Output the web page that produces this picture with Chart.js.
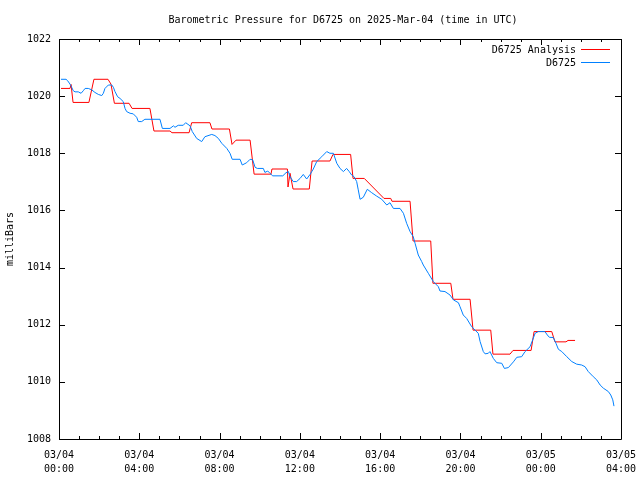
<!DOCTYPE html>
<html>
<head>
<meta charset="utf-8">
<script src="https://cdn.jsdelivr.net/npm/chart.js@4.4.1/dist/chart.umd.min.js"></script>
<style>
  body { margin: 0; background: #fff; }
  #wrap { width: 640px; height: 480px; }
</style>
</head>
<body>
<div id="wrap"><canvas id="myChart" width="640" height="480"></canvas></div>
<script>
// hours since 03/04 00:00 UTC, pressure in mb
const analysisHours = [0.10, 0.55, 0.60, 0.70, 1.49, 1.74, 2.44, 2.59, 2.76, 3.49, 3.64, 4.53, 4.73, 5.53, 5.63, 6.48, 6.61, 7.52, 7.62, 8.49, 8.62, 8.82, 9.52, 9.72, 10.56, 10.61, 11.38, 11.41, 11.51, 11.66, 12.47, 12.61, 13.50, 13.65, 14.53, 14.65, 15.21, 16.19, 16.53, 16.59, 17.49, 17.64, 18.52, 18.63, 19.52, 19.63, 20.48, 20.63, 21.51, 21.62, 22.47, 22.62, 23.52, 23.67, 24.55, 24.71, 25.26, 25.36, 25.71];
const analysisMb = [1020.27, 1020.27, 1020.41, 1019.78, 1019.78, 1020.59, 1020.59, 1020.42, 1019.75, 1019.75, 1019.57, 1019.57, 1018.78, 1018.78, 1018.72, 1018.72, 1019.07, 1019.07, 1018.85, 1018.85, 1018.31, 1018.46, 1018.46, 1017.27, 1017.27, 1017.45, 1017.45, 1016.82, 1017.30, 1016.75, 1016.75, 1017.73, 1017.73, 1017.96, 1017.96, 1017.12, 1017.12, 1016.42, 1016.42, 1016.32, 1016.32, 1014.93, 1014.93, 1013.45, 1013.45, 1012.89, 1012.89, 1011.81, 1011.81, 1010.97, 1010.97, 1011.10, 1011.10, 1011.76, 1011.76, 1011.40, 1011.40, 1011.45, 1011.45];

const stationHours = [0.10, 0.35, 0.43, 0.55, 0.63, 0.71, 0.80, 0.96, 1.10, 1.21, 1.30, 1.46, 1.63, 1.79, 1.96, 2.13, 2.21, 2.29, 2.46, 2.63, 2.71, 2.79, 2.92, 3.04, 3.20, 3.29, 3.37, 3.54, 3.70, 3.87, 3.95, 4.12, 4.28, 5.03, 5.15, 5.53, 5.70, 5.78, 5.94, 6.19, 6.31, 6.53, 6.64, 6.86, 7.11, 7.27, 7.61, 7.77, 7.94, 8.11, 8.36, 8.52, 8.63, 9.02, 9.13, 9.35, 9.52, 9.65, 9.77, 9.88, 10.18, 10.26, 10.40, 10.51, 10.65, 11.15, 11.31, 11.43, 11.51, 11.67, 11.84, 12.01, 12.17, 12.34, 12.51, 12.67, 12.84, 13.09, 13.34, 13.50, 13.67, 13.84, 14.00, 14.17, 14.33, 14.46, 14.58, 14.70, 14.83, 14.91, 15.00, 15.16, 15.36, 15.58, 15.83, 16.08, 16.33, 16.49, 16.66, 16.99, 17.16, 17.32, 17.49, 17.65, 17.74, 17.90, 18.07, 18.15, 18.40, 18.65, 18.90, 18.98, 19.23, 19.48, 19.65, 19.90, 19.98, 20.14, 20.31, 20.56, 20.73, 20.89, 20.98, 21.14, 21.23, 21.39, 21.47, 21.64, 21.81, 22.06, 22.19, 22.39, 22.64, 22.81, 23.05, 23.22, 23.47, 23.60, 23.72, 23.88, 24.21, 24.33, 24.43, 24.63, 24.76, 24.88, 25.05, 25.30, 25.55, 25.79, 26.04, 26.21, 26.37, 26.62, 26.79, 26.96, 27.12, 27.37, 27.49, 27.59, 27.65];
const stationMb = [1020.59, 1020.59, 1020.54, 1020.42, 1020.31, 1020.19, 1020.15, 1020.15, 1020.10, 1020.19, 1020.27, 1020.27, 1020.22, 1020.13, 1020.06, 1020.02, 1020.10, 1020.27, 1020.39, 1020.39, 1020.31, 1020.16, 1019.98, 1019.92, 1019.81, 1019.57, 1019.46, 1019.40, 1019.38, 1019.26, 1019.11, 1019.11, 1019.19, 1019.19, 1018.87, 1018.87, 1018.96, 1018.91, 1018.98, 1018.98, 1019.07, 1018.96, 1018.76, 1018.52, 1018.41, 1018.58, 1018.66, 1018.62, 1018.52, 1018.35, 1018.17, 1018.00, 1017.79, 1017.79, 1017.59, 1017.67, 1017.79, 1017.77, 1017.51, 1017.47, 1017.47, 1017.33, 1017.38, 1017.30, 1017.21, 1017.21, 1017.32, 1017.36, 1017.18, 1017.01, 1017.01, 1017.12, 1017.26, 1017.10, 1017.26, 1017.45, 1017.71, 1017.88, 1018.06, 1018.00, 1018.00, 1017.65, 1017.47, 1017.36, 1017.47, 1017.36, 1017.24, 1017.18, 1017.01, 1016.72, 1016.39, 1016.46, 1016.74, 1016.62, 1016.50, 1016.39, 1016.19, 1016.27, 1016.07, 1016.07, 1015.90, 1015.55, 1015.26, 1015.08, 1014.85, 1014.44, 1014.21, 1014.09, 1013.80, 1013.51, 1013.33, 1013.18, 1013.16, 1013.04, 1012.87, 1012.77, 1012.63, 1012.34, 1012.22, 1011.93, 1011.81, 1011.70, 1011.41, 1011.06, 1010.98, 1011.00, 1011.06, 1010.82, 1010.67, 1010.65, 1010.47, 1010.50, 1010.70, 1010.86, 1010.88, 1011.06, 1011.23, 1011.47, 1011.70, 1011.76, 1011.76, 1011.64, 1011.56, 1011.55, 1011.35, 1011.14, 1011.06, 1010.88, 1010.71, 1010.62, 1010.59, 1010.53, 1010.36, 1010.18, 1010.07, 1009.89, 1009.78, 1009.66, 1009.54, 1009.37, 1009.15];

const seriesNames = ["D6725 Analysis", "D6725"];
const seriesColors = ["#ff0000", "#0080ff"];
const titleText = "Barometric Pressure for D6725 on 2025-Mar-04 (time in UTC)";
const yTitle = "milliBars";
const monoFont = "'DejaVu Sans Mono', 'Liberation Mono', monospace";

function toPoints(xs, ys) {
    return xs.map((x, i) => ({ x: x, y: ys[i] }));
}

function hourLabel(h) {
    let day = 4 + Math.floor(h / 24);
    let hh = h % 24;
    return ["03/" + String(day).padStart(2, "0"), String(hh).padStart(2, "0") + ":00"];
}

// gnuplot style frame: box, inward ticks, title and legend
const gnuplotFrame = {
    id: "gnuplotFrame",
    afterDraw(chart) {
        const c = chart.ctx;
        const a = chart.chartArea;
        const xs = chart.scales.x;
        const ys = chart.scales.y;
        c.save();
        c.strokeStyle = "#000";
        c.lineWidth = 1;
        c.beginPath();
        c.rect(Math.round(a.left) + 0.5, Math.round(a.top) + 0.5,
               Math.round(a.right - a.left), Math.round(a.bottom - a.top));
        for (let h = 0; h <= 28; h++) {
            let px = Math.round(xs.getPixelForValue(h)) + 0.5;
            let len = h % 4 === 0 ? 6 : 3;
            c.moveTo(px, a.bottom); c.lineTo(px, a.bottom - len);
            c.moveTo(px, a.top); c.lineTo(px, a.top + len);
        }
        for (let v = 1008; v <= 1022; v += 2) {
            let py = Math.round(ys.getPixelForValue(v)) + 0.5;
            c.moveTo(a.left, py); c.lineTo(a.left + 6, py);
            c.moveTo(a.right, py); c.lineTo(a.right - 6, py);
        }
        c.stroke();

        c.fillStyle = "#000";
        c.font = "10px " + monoFont;
        c.textBaseline = "middle";
        c.textAlign = "center";
        c.fillText(titleText, 343, 20);

        c.textAlign = "right";
        seriesNames.forEach((name, i) => {
            let ly = 50 + i * 13;
            c.fillStyle = "#000";
            c.fillText(name, 576, ly);
            c.strokeStyle = seriesColors[i];
            c.beginPath();
            c.moveTo(581, ly - 0.5);
            c.lineTo(610, ly - 0.5);
            c.stroke();
        });
        c.restore();
    }
};

var ctx = document.getElementById("myChart").getContext("2d");
var myChart = new Chart(ctx, {
    type: "line",
    data: {
        datasets: [
            {
                label: seriesNames[0],
                data: toPoints(analysisHours, analysisMb),
                borderColor: seriesColors[0],
                borderWidth: 1,
                pointRadius: 0,
                tension: 0,
                order: 1,
            },
            {
                label: seriesNames[1],
                data: toPoints(stationHours, stationMb),
                borderColor: seriesColors[1],
                borderWidth: 1,
                pointRadius: 0,
                tension: 0,
                order: 0,
            },
        ],
    },
    options: {
        responsive: false,
        animation: false,
        layout: { padding: { top: 39, right: 19, bottom: 0, left: 0 } },
        plugins: {
            legend: { display: false },
            title: { display: false },
            tooltip: { enabled: false },
        },
        scales: {
            x: {
                type: "linear",
                min: 0,
                max: 28,
                grid: { display: false, drawTicks: false, tickLength: 0 },
                border: { display: false },
                afterFit: (scale) => {
                    scale.height = 41;
                    scale.paddingLeft = 0;
                    scale.paddingRight = 0;
                },
                ticks: {
                    stepSize: 4,
                    autoSkip: false,
                    maxRotation: 0,
                    padding: 9,
                    color: "#000",
                    font: { family: monoFont, size: 10, lineHeight: 1.4 },
                    callback: (value) => hourLabel(value),
                },
            },
            y: {
                min: 1008,
                max: 1022,
                grid: { display: false, drawTicks: false, tickLength: 0 },
                border: { display: false },
                afterFit: (scale) => {
                    scale.width = 59;
                    scale.paddingTop = 0;
                    scale.paddingBottom = 0;
                },
                title: {
                    display: true,
                    text: yTitle,
                    color: "#000",
                    font: { family: monoFont, size: 10 },
                    padding: { top: 4, bottom: 0 },
                },
                ticks: {
                    stepSize: 2,
                    padding: 8,
                    color: "#000",
                    font: { family: monoFont, size: 10 },
                    callback: (value) => String(value),
                },
            },
        },
    },
    plugins: [gnuplotFrame],
});
</script>
</body>
</html>
